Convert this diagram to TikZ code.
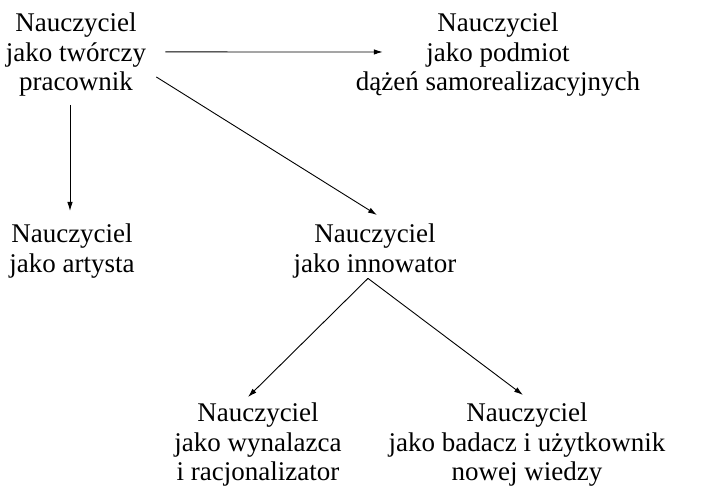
\documentclass[tikz,border=0pt]{standalone}
\usepackage{fontspec}
\setmainfont{Liberation Serif}
\usepackage{tikz}
\usetikzlibrary{calc,arrows.meta}

\begin{document}
\begin{tikzpicture}[x=1pt,y=-1pt,
		role/.style={anchor=north, align=center, inner sep=0pt,
			font=\fontsize{27}{29.5}\selectfont},
		link/.style={-{Latex[length=9pt,width=5.5pt]}, line width=0.9pt}]
				% Frame
				\useasboundingbox (0,0) rectangle (701,489);

				% Roles
				\node[role] (tworczy) at (76,13) {Nauczyciel\\jako twórczy\\pracownik};
				\node[role] (podmiot) at (498,13) {Nauczyciel\\jako podmiot\\dążeń samorealizacyjnych};
				\node[role] (artysta) at (72,224) {Nauczyciel\\jako artysta};
				\node[role] (innowator) at (375,224) {Nauczyciel\\jako innowator};
				\node[role] (wynalazca) at (258,403) {Nauczyciel\\jako wynalazca\\i racjonalizator};
				\node[role] (badacz) at (527,403) {Nauczyciel\\jako badacz i użytkownik\\nowej wiedzy};

				% Arrows from the creative worker
				\draw[link] ($(tworczy.east)+(19,-3)$) -- ($(podmiot.west)+(27,-3)$);
				\draw[link] ($(artysta.north)+(-2,-119)$) -- ($(artysta.north)+(-2,-13)$);
				\draw[link] ($(tworczy.east)+(10,22)$) -- ($(innowator.north)+(2,-9)$);

				% Arrows from the innovator
				\draw[link] ($(innowator.south)+(-7,0)$) -- ($(wynalazca.north)+(-10,-6)$);
				\draw[link] ($(innowator.south)+(-7,0)$) -- ($(badacz.north)+(-4,-8)$);
\end{tikzpicture}
\end{document}
